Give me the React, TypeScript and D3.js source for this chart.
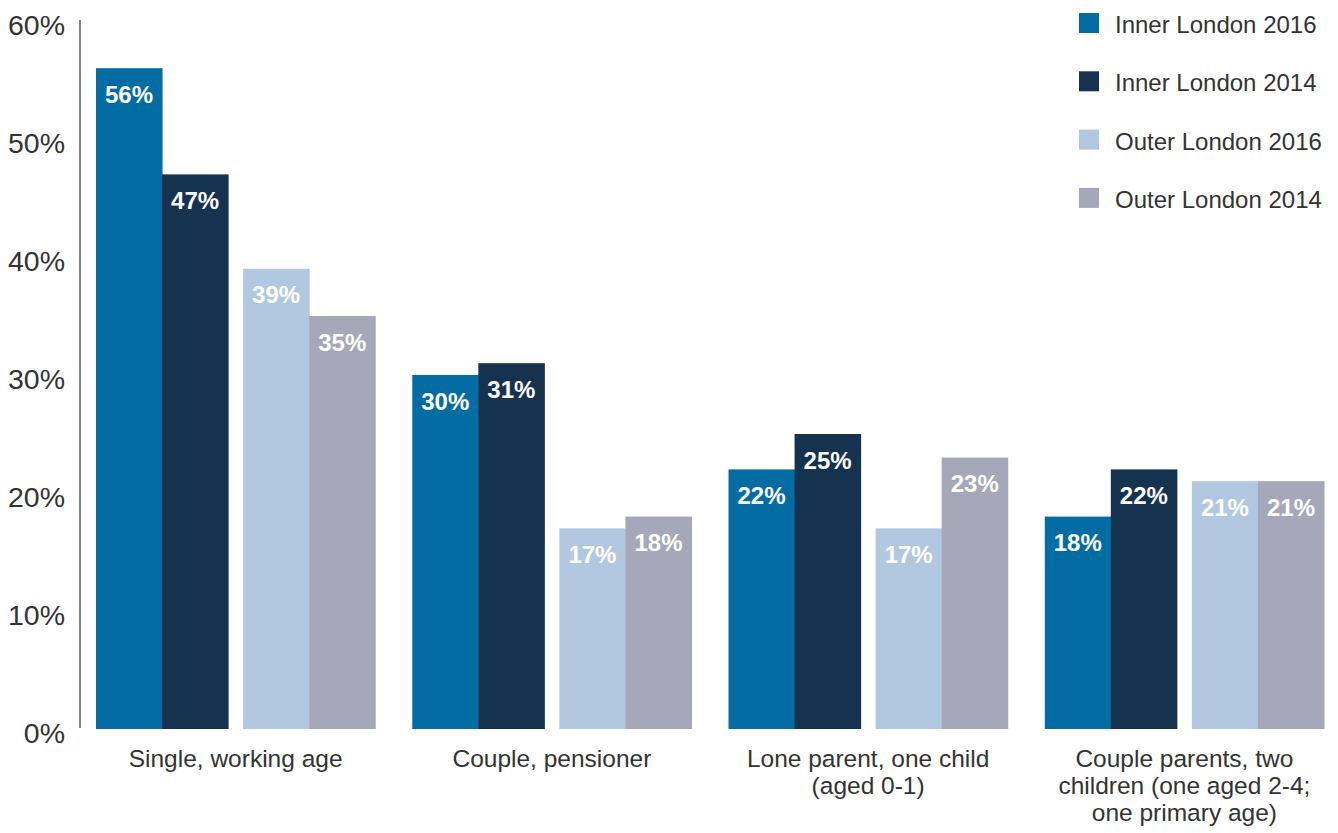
import React from "react";
import * as d3 from "d3";

const categories: string[][] = [
  ["Single, working age"],
  ["Couple, pensioner"],
  ["Lone parent, one child", "(aged 0-1)"],
  ["Couple parents, two", "children (one aged 2-4;", "one primary age)"],
];
const seriesNames = ["Inner London 2016", "Inner London 2014", "Outer London 2016", "Outer London 2014"];
const seriesColors = ["#026ca3", "#15324f", "#b2c8e0", "#a6a8ba"];
const innerLondon2016 = [56, 30, 22, 18];
const innerLondon2014 = [47, 31, 25, 22];
const outerLondon2016 = [39, 17, 17, 21];
const outerLondon2014 = [35, 18, 23, 21];
const yTicks = [0, 10, 20, 30, 40, 50, 60];

const seriesValues = [innerLondon2016, innerLondon2014, outerLondon2016, outerLondon2014];

export default function App() {
  const W = 1338, H = 833;
  const catKeys = categories.map((c) => c.join(" "));
  const x0 = d3.scaleBand<string>().domain(catKeys).range([96, 1324]).paddingInner(37 / 316).paddingOuter(0);
  const region = d3.scaleBand<string>().domain(["Inner", "Outer"]).range([0, x0.bandwidth()]).paddingInner(15 / 147);
  const year = d3.scaleBand<string>().domain(["2016", "2014"]).range([0, region.bandwidth()]);
  const y = d3.scaleLinear().domain([0, 60]).range([729, 21]);
  const font = "'Liberation Sans', Arial, Helvetica, sans-serif";
  const seriesPos = (si: number) => region(si < 2 ? "Inner" : "Outer")! + year(si % 2 === 0 ? "2016" : "2014")!;

  return (
    <svg width={W} height={H} style={{ position: "absolute", left: 0, top: 0, background: "#fff" }}>
      <line x1={80} x2={80} y1={20} y2={728} stroke="#333" strokeWidth={1.2} />
      {yTicks.map((t) => (
        <text key={t} x={65} y={y(t) + 4} textAnchor="end" dominantBaseline="central" fontFamily={font} fontSize={28.5} fill="#333" fontWeight={300}>
          {t}%
        </text>
      ))}
      {categories.map((cat, ci) => {
        const gx = x0(catKeys[ci])!;
        return (
          <g key={ci}>
            {seriesValues.map((vals, si) => {
              const bx = gx + seriesPos(si);
              const v = vals[ci];
              return (
                <g key={si}>
                  <rect x={bx} y={y(v)} width={year.bandwidth() + 0.5} height={y(0) - y(v)} fill={seriesColors[si]} />
                  <text x={bx + year.bandwidth() / 2} y={y(v) + 34.5} textAnchor="middle" fontFamily={font} fontWeight="bold" fontSize={24} fill="#fff">
                    {v}%
                  </text>
                </g>
              );
            })}
            {cat.map((line, li) => (
              <text key={li} x={gx + x0.bandwidth() / 2} y={767 + li * 27} textAnchor="middle" fontFamily={font} fontSize={24.5} fill="#333">
                {line}
              </text>
            ))}
          </g>
        );
      })}
      {seriesNames.map((s, i) => (
        <g key={s} transform={`translate(1079, ${13 + i * 58.3})`}>
          <rect x={0} y={0} width={20} height={20} fill={seriesColors[i]} />
          <text x={36} y={20} fontFamily={font} fontSize={24} fill="#333">
            {s}
          </text>
        </g>
      ))}
    </svg>
  );
}
